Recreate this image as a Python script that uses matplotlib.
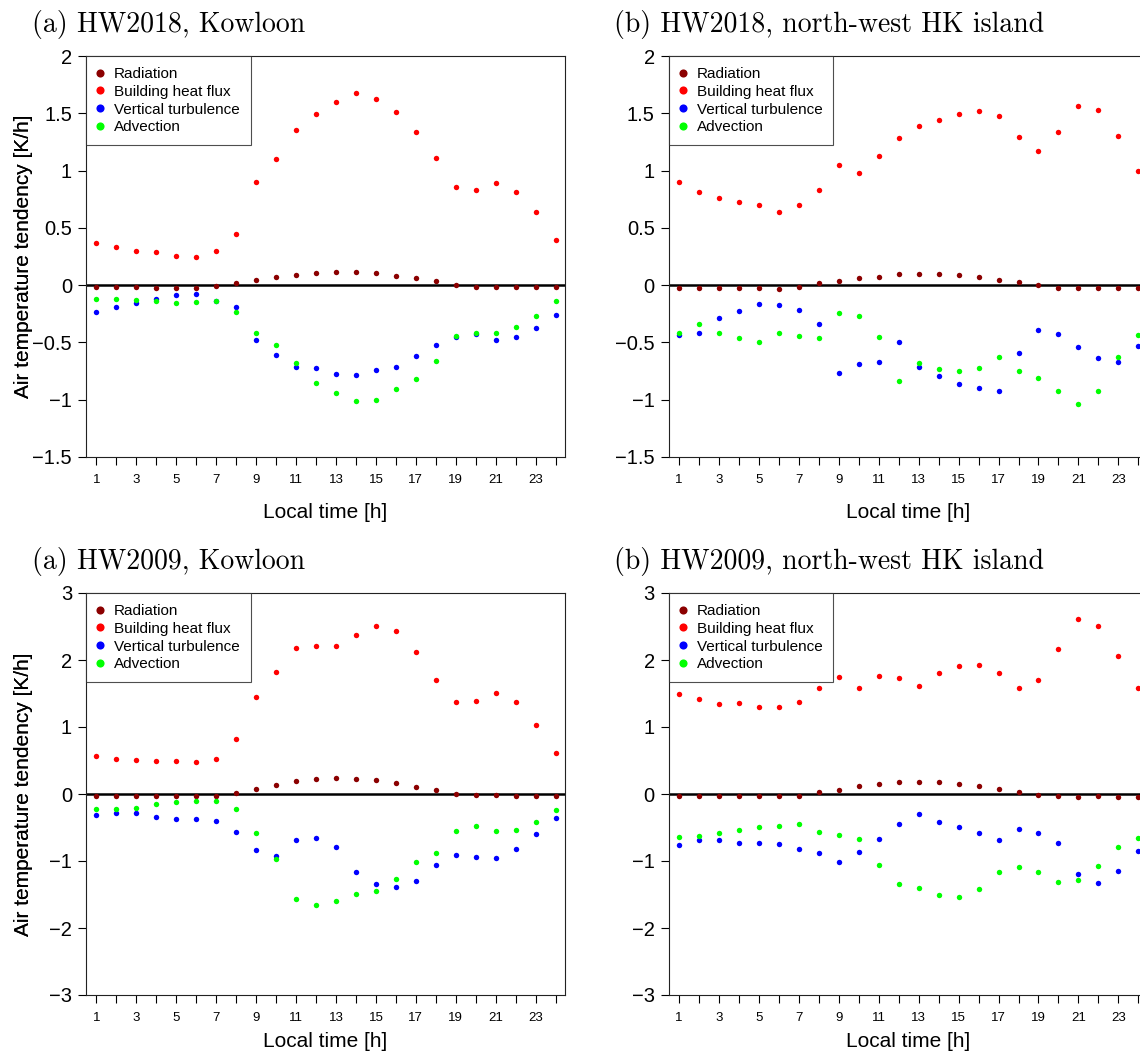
import matplotlib
matplotlib.use("Agg")
import matplotlib.pyplot as plt
from matplotlib.ticker import FuncFormatter, FixedLocator

plt.rcParams['font.family'] = ['Liberation Sans', 'DejaVu Sans']

hours = list(range(1, 25))
series_names = ["Radiation", "Building heat flux", "Vertical turbulence", "Advection"]
series_colors = ["#8B0000", "#FF0000", "#0000FF", "#00FF00"]

# (a) HW2018, Kowloon
hw18_kln_rad = [-0.017, -0.02, -0.02, -0.026, -0.026, -0.026, -0.009, 0.020, 0.041, 0.067, 0.087, 0.105,
                0.113, 0.113, 0.102, 0.084, 0.058, 0.032, 0.003, -0.015, -0.017, -0.017, -0.017, -0.017]
hw18_kln_bhf = [0.366, 0.331, 0.302, 0.285, 0.258, 0.250, 0.296, 0.450, 0.897, 1.104, 1.353, 1.496,
                1.597, 1.673, 1.629, 1.507, 1.339, 1.112, 0.860, 0.834, 0.889, 0.816, 0.636, 0.398]
hw18_kln_vt = [-0.238, -0.195, -0.157, -0.122, -0.084, -0.081, -0.140, -0.195, -0.482, -0.607, -0.717, -0.726,
               -0.773, -0.781, -0.741, -0.714, -0.616, -0.523, -0.453, -0.424, -0.476, -0.450, -0.378, -0.258]
hw18_kln_adv = [-0.119, -0.119, -0.134, -0.139, -0.154, -0.145, -0.137, -0.238, -0.418, -0.523, -0.683, -0.854,
                -0.941, -1.008, -1.005, -0.903, -0.822, -0.665, -0.441, -0.418, -0.421, -0.363, -0.270, -0.142]

# (b) HW2018, north-west HK island
hw18_hki_rad = [-0.026, -0.026, -0.029, -0.029, -0.026, -0.032, -0.012, 0.015, 0.038, 0.058, 0.075, 0.096,
                0.099, 0.099, 0.087, 0.070, 0.049, 0.026, -0.003, -0.023, -0.023, -0.023, -0.023, -0.023]
hw18_hki_bhf = [0.900, 0.813, 0.758, 0.729, 0.703, 0.642, 0.700, 0.833, 1.048, 0.975, 1.123, 1.280,
                1.385, 1.440, 1.492, 1.524, 1.477, 1.292, 1.170, 1.338, 1.565, 1.527, 1.298, 0.999]
hw18_hki_vt = [-0.438, -0.415, -0.287, -0.224, -0.165, -0.174, -0.218, -0.340, -0.766, -0.688, -0.671, -0.494,
               -0.717, -0.792, -0.859, -0.897, -0.926, -0.592, -0.392, -0.424, -0.540, -0.633, -0.671, -0.531]
hw18_hki_adv = [-0.418, -0.343, -0.418, -0.464, -0.494, -0.415, -0.447, -0.459, -0.241, -0.267, -0.450, -0.836,
                -0.679, -0.734, -0.746, -0.726, -0.630, -0.749, -0.810, -0.920, -1.036, -0.920, -0.627, -0.433]

# (a) HW2009, Kowloon
hw09_kln_rad = [-0.025, -0.025, -0.035, -0.025, -0.025, -0.025, -0.025, 0.020, 0.070, 0.135, 0.189, 0.224,
                0.239, 0.224, 0.204, 0.159, 0.105, 0.055, 0.005, -0.020, -0.020, -0.025, -0.025, -0.025]
hw09_kln_bhf = [0.563, 0.528, 0.513, 0.498, 0.493, 0.483, 0.528, 0.822, 1.450, 1.824, 2.177, 2.212,
                2.212, 2.377, 2.511, 2.436, 2.118, 1.704, 1.370, 1.385, 1.510, 1.370, 1.031, 0.613]
hw09_kln_vt = [-0.314, -0.284, -0.284, -0.344, -0.369, -0.379, -0.399, -0.568, -0.842, -0.922, -0.688, -0.653,
               -0.797, -1.161, -1.340, -1.385, -1.300, -1.056, -0.912, -0.937, -0.957, -0.827, -0.593, -0.359]
hw09_kln_adv = [-0.224, -0.224, -0.209, -0.154, -0.125, -0.110, -0.110, -0.224, -0.583, -0.972, -1.560, -1.659,
                -1.604, -1.490, -1.455, -1.276, -1.016, -0.877, -0.553, -0.478, -0.558, -0.538, -0.424, -0.239]

# (b) HW2009, north-west HK island
hw09_hki_rad = [-0.035, -0.035, -0.035, -0.030, -0.030, -0.030, -0.025, 0.025, 0.065, 0.115, 0.149, 0.174,
                0.184, 0.174, 0.149, 0.115, 0.070, 0.025, -0.015, -0.030, -0.040, -0.030, -0.040, -0.040]
hw09_hki_bhf = [1.500, 1.415, 1.350, 1.355, 1.305, 1.305, 1.370, 1.584, 1.749, 1.589, 1.754, 1.729,
                1.619, 1.804, 1.908, 1.923, 1.804, 1.589, 1.704, 2.162, 2.611, 2.506, 2.058, 1.589]
hw09_hki_vt = [-0.762, -0.688, -0.688, -0.727, -0.727, -0.752, -0.817, -0.887, -1.016, -0.872, -0.678, -0.443,
               -0.299, -0.424, -0.493, -0.578, -0.688, -0.528, -0.588, -0.732, -1.196, -1.335, -1.151, -0.847]
hw09_hki_adv = [-0.643, -0.633, -0.583, -0.538, -0.493, -0.478, -0.453, -0.573, -0.608, -0.668, -1.056, -1.345,
                -1.405, -1.500, -1.535, -1.425, -1.171, -1.091, -1.161, -1.315, -1.290, -1.071, -0.787, -0.663]

panel_titles = ["(a) HW2018, Kowloon", "(b) HW2018, north-west HK island",
                "(a) HW2009, Kowloon", "(b) HW2009, north-west HK island"]
panel_data = [
    [hw18_kln_rad, hw18_kln_bhf, hw18_kln_vt, hw18_kln_adv],
    [hw18_hki_rad, hw18_hki_bhf, hw18_hki_vt, hw18_hki_adv],
    [hw09_kln_rad, hw09_kln_bhf, hw09_kln_vt, hw09_kln_adv],
    [hw09_hki_rad, hw09_hki_bhf, hw09_hki_vt, hw09_hki_adv],
]
ylims = [(-1.5, 2.0), (-1.5, 2.0), (-3.0, 3.0), (-3.0, 3.0)]
yticks = [[-1.5, -1, -0.5, 0, 0.5, 1, 1.5, 2], [-1.5, -1, -0.5, 0, 0.5, 1, 1.5, 2],
          [-3, -2, -1, 0, 1, 2, 3], [-3, -2, -1, 0, 1, 2, 3]]
xlabel = "Local time [h]"
ylabel = "Air temperature tendency [K/h]"

W, H = 1140, 1054
fig = plt.figure(figsize=(W / 100, H / 100), dpi=100)

# axes boxes in pixels: left, top, right, bottom
boxes = [(86, 56, 565, 457), (668.7, 56, 1147.7, 457),
         (86, 593, 565, 995), (668.7, 593, 1147.7, 995)]
title_pos = [(32, 31.7), (614, 31.7), (32, 569), (614, 569)]
xlabel_gap = [46, 46, 37, 37]


def fmt(v, pos):
    s = "{:g}".format(v)
    return s.replace("-", "\u2212")


for i in range(4):
    l, t, r, b = boxes[i]
    ax = fig.add_axes([l / W, 1 - b / H, (r - l) / W, (b - t) / H])
    ax.axhline(0, color="black", lw=1.8, zorder=1)
    for name, col, vals in zip(series_names, series_colors, panel_data[i]):
        ax.plot(hours, vals, linestyle="none", marker="o", markersize=3.9,
                markeredgewidth=0, color=col, label=name, zorder=3)
    ax.set_xlim(0.48, 24.47)
    ax.set_ylim(*ylims[i])
    ax.set_xticks(hours)
    ax.set_xticklabels([str(h) if h % 2 == 1 else "" for h in hours], fontsize=9.5)
    ax.yaxis.set_major_locator(FixedLocator(yticks[i]))
    ax.yaxis.set_major_formatter(FuncFormatter(fmt))
    ax.tick_params(axis="y", direction="out", length=6, width=0.8, pad=4, labelsize=14.5)
    ax.tick_params(axis="x", direction="out", length=6, width=0.8, pad=6.5)
    for s in ax.spines.values():
        s.set_linewidth(0.8)
        s.set_color("#222222")
    ax.set_xlabel(xlabel, fontsize=15)
    ax.xaxis.set_label_coords(0.5, -xlabel_gap[i] / (b - t))
    ax.set_ylabel(ylabel, fontsize=15)
    ax.yaxis.set_label_coords((33 - l) / (r - l), 0.5)
    leg = ax.legend(loc="upper left", bbox_to_anchor=(0, 1), borderaxespad=0,
                    fontsize=11, frameon=True, fancybox=False, edgecolor="#222222",
                    handlelength=0.4, handletextpad=0.71, borderpad=0.72,
                    labelspacing=0.25, markerscale=1.5)
    leg.get_frame().set_linewidth(0.8)
    tx, ty = title_pos[i]
    fig.text(tx / W, 1 - ty / H, panel_titles[i], family="cmr10", fontsize=20,
             ha="left", va="baseline")

fig.savefig("out.png", dpi=100)
